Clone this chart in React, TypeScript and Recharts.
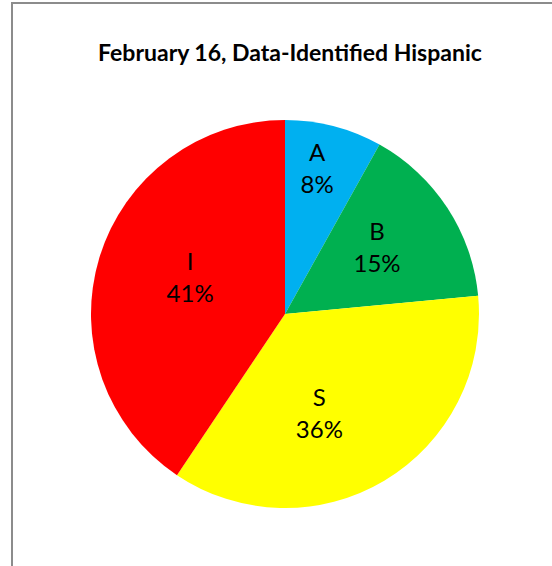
import React from "react";
import { PieChart, Pie, Cell } from "recharts";

const categories = ["A", "B", "S", "I"];
const shares = [8.1, 15.4, 35.9, 40.6];
const colors = ["#00B0F0", "#00B050", "#FFFF00", "#FF0000"];
const title = "February 16, Data-Identified Hispanic";

const data = categories.map((name, i) => ({ name, value: shares[i] }));

// label placement tweaks (radius fraction and clockwise angle shift), styling only
const labelTweak: Record<string, { rf: number; da: number }> = {
  A: { rf: 0.76, da: -2 },
  B: { rf: 0.58, da: -2 },
  S: { rf: 0.55, da: 12 },
  I: { rf: 0.52, da: 3 },
};

const RAD = Math.PI / 180;
const FONT = "Lato, 'Open Sans', sans-serif";

const renderLabel = (props: any) => {
  const { cx, cy, midAngle, outerRadius, percent, name } = props;
  const t = labelTweak[name] || { rf: 0.6, da: 0 };
  const ang = midAngle - t.da;
  const r = outerRadius * t.rf;
  const x = cx + r * Math.cos(-ang * RAD);
  const y = cy + r * Math.sin(-ang * RAD) - 3;
  return (
    <text
      x={x}
      y={y}
      textAnchor="middle"
      fill="#000"
      fontFamily={FONT}
      fontSize={24}
    >
      <tspan x={x} y={y - 16} dominantBaseline="central">
        {name}
      </tspan>
      <tspan x={x} y={y + 16} dominantBaseline="central">
        {Math.round(percent * 100) + "%"}
      </tspan>
    </text>
  );
};

export default function App() {
  return (
    <div
      style={{
        position: "absolute",
        left: 0,
        top: 0,
        width: 552,
        height: 566,
        overflow: "hidden",
        background: "#fff",
      }}
    >
      <div
        style={{
          position: "absolute",
          left: 11,
          top: 2,
          width: 600,
          height: 600,
          borderTop: "2px solid #8c8c8c",
          borderLeft: "2px solid #8c8c8c",
        }}
      />
      <div
        style={{
          position: "absolute",
          left: 0,
          top: 35,
          width: 580,
          textAlign: "center",
          fontFamily: FONT,
          fontWeight: 700,
          fontSize: 23,
          color: "#000",
          lineHeight: "34px",
          whiteSpace: "nowrap",
        }}
      >
        {title}
      </div>
      <div style={{ position: "absolute", left: 0, top: 0 }}>
        <PieChart
          width={552}
          height={566}
          margin={{ top: 0, right: 0, bottom: 0, left: 0 }}
        >
          <Pie
            data={data}
            dataKey="value"
            nameKey="name"
            cx={285}
            cy={314}
            outerRadius={194}
            startAngle={90}
            endAngle={-270}
            stroke="none"
            isAnimationActive={false}
            label={renderLabel}
            labelLine={false}
          >
            {data.map((d, i) => (
              <Cell key={d.name} fill={colors[i]} />
            ))}
          </Pie>
        </PieChart>
      </div>
    </div>
  );
}
